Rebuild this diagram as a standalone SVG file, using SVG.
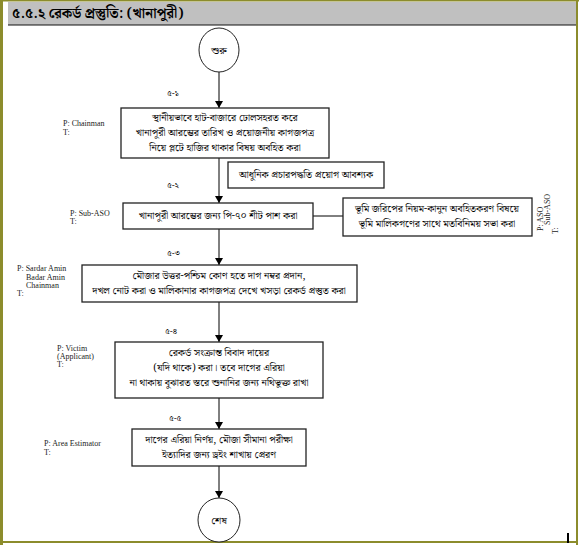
<svg xmlns="http://www.w3.org/2000/svg" width="582" height="545" viewBox="0 0 582 545">
<style>
.bn{font-family:"Noto Serif Bengali","Noto Sans Bengali","Lohit Bengali","Noto Sans",sans-serif;font-size:10.2px;fill:#000;text-anchor:middle}
.num{font-family:"Noto Serif Bengali","Noto Sans Bengali","Lohit Bengali","Noto Sans",sans-serif;font-size:8.5px;fill:#000}
.lb{font-family:"Liberation Serif",serif;font-size:8px;fill:#222}
.box{fill:#fff;stroke:#222;stroke-width:1.3}
.ell{fill:#fff;stroke:#222;stroke-width:1}
.ln{stroke:#000;stroke-width:1;fill:none}
</style>
<defs>
<marker id="ah" markerWidth="8" markerHeight="10" refX="7" refY="5" orient="auto" markerUnits="userSpaceOnUse">
<path d="M0,1 L7,5 L0,9 Z" fill="#000"/>
</marker>
</defs>
<rect x="0" y="0" width="582" height="545" fill="#fff"/>
<g id="frame">
<rect x="0" y="0" width="3" height="545" fill="#8c8c2c"/>
<rect x="0" y="0" width="579" height="1.5" fill="#8c8c2c"/>
<rect x="576" y="0" width="2" height="545" fill="#8c8c2c"/>
<rect x="0" y="541" width="578" height="2" fill="#8c8c2c"/>
<rect x="8" y="2" width="568" height="23" fill="#c0c0c0"/>
<line x1="8" y1="25" x2="576" y2="25" stroke="#111" stroke-width="1.2"/>
<text x="12" y="18" style="font-family:'Noto Serif Bengali','Noto Sans Bengali','Lohit Bengali',sans-serif;font-size:14px;font-weight:bold" fill="#000">৫.৫.২ রেকর্ড প্রস্তুতি: (খানাপুরী)</text>
<rect x="567" y="533" width="2" height="10" fill="#000"/>
</g>
<g id="connectors">
<line class="ln" x1="219" y1="72" x2="219" y2="108" marker-end="url(#ah)"/>
<line class="ln" x1="219" y1="158" x2="219" y2="203" marker-end="url(#ah)"/>
<line class="ln" x1="313" y1="216" x2="343" y2="216"/>
<line class="ln" x1="219" y1="229" x2="219" y2="265" marker-end="url(#ah)"/>
<line class="ln" x1="219" y1="302" x2="219" y2="342" marker-end="url(#ah)"/>
<line class="ln" x1="219" y1="398" x2="219" y2="429" marker-end="url(#ah)"/>
<line class="ln" x1="219" y1="466" x2="219" y2="498" marker-end="url(#ah)"/>
</g>
<g id="start">
<ellipse class="ell" cx="219" cy="50" rx="20" ry="22"/>
<text class="bn" x="219" y="54">শুরু</text>
</g>
<g id="step1">
<text class="num" x="167" y="96">৫-১</text>
<text class="lb" x="63" y="126">P: Chainman</text>
<text class="lb" x="63" y="135">T:</text>
<rect class="box" x="121" y="108" width="208" height="50"/>
<text class="bn" x="225" y="121">স্থানীয়ভাবে হাট-বাজারে ঢোলসহরত করে</text>
<text class="bn" x="225" y="136">খানাপুরী আরম্ভের তারিখ ও প্রয়োজনীয় কাগজপত্র</text>
<text class="bn" x="225" y="151">নিয়ে প্লটে হাজির থাকার বিষয় অবহিত করা</text>
</g>
<g id="note1">
<rect class="box" x="228" y="162" width="156" height="26"/>
<text class="bn" x="306" y="178">আধুনিক প্রচারপদ্ধতি প্রয়োগ আবশ্যক</text>
</g>
<g id="step2">
<text class="num" x="167" y="188">৫-২</text>
<text class="lb" x="70" y="216">P: Sub-ASO</text>
<text class="lb" x="70" y="224">T:</text>
<rect class="box" x="123" y="203" width="190" height="26"/>
<text class="bn" x="218" y="219">খানাপুরী আরম্ভের জন্য পি-৭০ শীট পাশ করা</text>
</g>
<g id="step2b">
<rect class="box" x="343" y="198" width="189" height="38"/>
<text class="bn" x="437" y="212">ভূমি জরিপের নিয়ম-কানুন অবহিতকরণ বিষয়ে</text>
<text class="bn" x="437" y="227">ভূমি মালিকগণের সাথে মতবিনিময় সভা করা</text>
<text class="lb" transform="translate(543,231) rotate(-90)">P: ASO</text>
<text class="lb" transform="translate(550,225) rotate(-90)">Sub-ASO</text>
<text class="lb" transform="translate(558,234) rotate(-90)">T:</text>
</g>
<g id="step3">
<text class="num" x="167" y="256">৫-৩</text>
<text class="lb" x="17" y="271">P: Sardar Amin</text>
<text class="lb" x="26" y="280">Badar Amin</text>
<text class="lb" x="26" y="288">Chainman</text>
<text class="lb" x="17" y="296">T:</text>
<rect class="box" x="82" y="265" width="275" height="37"/>
<text class="bn" x="219" y="279">মৌজার উত্তর-পশ্চিম কোণ হতে দাগ নম্বর প্রদান,</text>
<text class="bn" x="219" y="294">দখল নোট করা ও মালিকানার কাগজপত্র দেখে খসড়া রেকর্ড প্রস্তুত করা</text>
</g>
<g id="step4">
<text class="num" x="165" y="334">৫-৪</text>
<text class="lb" x="57" y="351">P: Victim</text>
<text class="lb" x="57" y="359">(Applicant)</text>
<text class="lb" x="57" y="367">T:</text>
<rect class="box" x="115" y="342" width="208" height="56"/>
<text class="bn" x="219" y="356">রেকর্ড সংক্রান্ত বিবাদ দায়ের</text>
<text class="bn" x="219" y="371">(যদি থাকে) করা। তবে দাগের এরিয়া</text>
<text class="bn" x="219" y="386">না থাকায় বুঝারত স্তরে শুনানির জন্য নথিভুক্ত রাখা</text>
</g>
<g id="step5">
<text class="num" x="169" y="421">৫-৫</text>
<text class="lb" x="44" y="446">P: Area Estimator</text>
<text class="lb" x="44" y="455">T:</text>
<rect class="box" x="132" y="429" width="174" height="37"/>
<text class="bn" x="219" y="443">দাগের এরিয়া নির্ণয়, মৌজা সীমানা পরীক্ষা</text>
<text class="bn" x="219" y="458">ইত্যাদির জন্য ড্রইং শাখায় প্রেরণ</text>
</g>
<g id="end">
<ellipse class="ell" cx="219" cy="520" rx="21" ry="22"/>
<text class="bn" x="219" y="524">শেষ</text>
</g>
</svg>
